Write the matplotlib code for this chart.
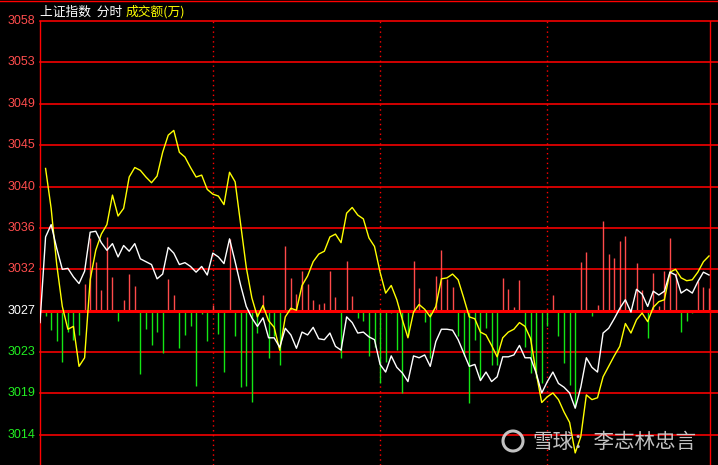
import numpy as np
import matplotlib
matplotlib.use("Agg")
import matplotlib.pyplot as plt
from matplotlib.patches import Circle
from matplotlib.lines import Line2D

# ---------------- data ----------------
title_left = "上证指数  分时"
title_right = "成交额(万)"
watermark = "雪球：李志林忠言"
tick_labels = ["3058", "3053", "3049", "3045", "3040", "3036",
               "3032", "3027", "3023", "3019", "3014"]
base_price = 3027.35
grid_step = 4.35
session_marks = [31, 61, 91]

index_price = [
    3026.1, 3035.1, 3036.4, 3033.9, 3031.7, 3031.8, 3030.9, 3030.2, 3031.5, 3035.6,
    3035.7, 3034.5, 3033.7, 3034.4, 3033.0, 3034.2, 3033.6, 3034.4, 3032.8, 3032.5,
    3032.2, 3030.7, 3031.2, 3034.0, 3033.4, 3032.2, 3032.4, 3032.0, 3031.4, 3032.0,
    3031.1, 3033.4, 3033.0, 3032.3, 3034.9, 3032.5, 3030.0, 3027.8, 3026.6, 3025.7,
    3026.6, 3024.5, 3024.5, 3023.5, 3025.5, 3024.8, 3023.4, 3025.1, 3024.8, 3025.6,
    3024.4, 3024.3, 3025.0, 3023.6, 3023.2, 3026.7, 3026.1, 3025.0, 3025.1, 3024.6,
    3024.3, 3021.7, 3020.9, 3022.6, 3021.4, 3020.8, 3019.9, 3022.6, 3022.4, 3022.7,
    3021.5, 3024.1, 3025.4, 3025.4, 3025.3, 3024.3, 3022.9, 3021.5, 3021.7, 3020.0,
    3020.9, 3019.9, 3020.4, 3022.5, 3022.5, 3022.7, 3023.7, 3022.4, 3022.4, 3020.8,
    3018.7, 3019.9, 3020.9, 3019.7, 3019.3, 3018.7, 3017.1, 3019.3, 3022.4, 3021.4,
    3020.9, 3025.0, 3025.5, 3026.5, 3027.6, 3028.5, 3027.2, 3029.6, 3029.1, 3027.8,
    3029.4, 3029.0, 3029.4, 3031.4, 3031.1, 3029.2, 3029.6, 3029.2, 3030.4, 3031.4,
    3031.1,
]

yellow_line = [
    np.nan, 3042.3, 3038.1, 3032.2, 3027.8, 3025.4, 3025.7, 3021.5, 3022.4, 3030.6,
    3033.7, 3035.4, 3036.4, 3039.5, 3037.3, 3038.1, 3041.4, 3042.4, 3042.1, 3041.4,
    3040.8, 3041.5, 3044.0, 3045.8, 3046.3, 3044.0, 3043.5, 3042.4, 3041.4, 3041.6,
    3040.1, 3039.6, 3039.4, 3038.5, 3041.9, 3040.9, 3036.4, 3031.9, 3028.7, 3026.7,
    3027.9, 3026.3, 3025.6, 3023.2, 3026.7, 3027.6, 3027.4, 3030.0, 3031.0, 3032.5,
    3033.3, 3033.6, 3035.1, 3035.4, 3034.5, 3037.6, 3038.2, 3037.4, 3037.0, 3035.0,
    3034.1, 3031.4, 3029.2, 3030.0, 3028.5, 3026.4, 3024.5, 3027.2, 3028.0, 3027.5,
    3026.7, 3027.8, 3030.7, 3030.8, 3031.2, 3030.6, 3028.7, 3026.7, 3026.5, 3025.1,
    3024.8, 3023.7, 3022.5, 3024.5, 3025.1, 3025.4, 3026.1, 3025.7, 3024.4, 3020.8,
    3017.7, 3018.3, 3018.7, 3018.0, 3016.7, 3015.6, 3012.4, 3014.1, 3018.5, 3018.0,
    3018.2, 3020.4, 3021.5, 3022.6, 3023.6, 3026.0, 3025.0, 3026.4, 3027.1, 3026.2,
    3027.7, 3028.3, 3028.5, 3031.4, 3031.7, 3030.8, 3030.5, 3030.6, 3031.4, 3032.5,
    3033.1,
]

flow_bars = [
    0.0, -0.6, -2.0, -3.2, -5.4, -2.2, -3.1, -2.6, 2.8, 7.6,
    5.1, 2.2, 7.7, 3.5, -1.1, 1.1, 3.9, 2.6, -6.7, -1.9,
    -3.6, -2.2, -4.4, 3.3, 1.6, -3.9, -2.6, -1.6, -7.9, -0.4,
    -3.2, 0.6, -2.5, -6.4, 7.5, -2.7, -8.0, -7.9, -9.6, -2.3,
    1.7, -5.0, -2.7, -5.7, 6.8, 3.4, 1.8, 4.2, 2.8, 1.1,
    0.7, 0.8, 4.2, 1.4, -5.0, 5.2, 1.5, -0.8, -1.1, -4.8,
    -3.8, -7.6, -5.4, -0.2, -4.1, -8.6, -2.7, 5.2, 2.4, -1.2,
    -5.0, 3.6, 6.4, 3.3, 2.5, -2.7, -4.8, -9.7, -3.1, -7.2,
    -1.8, -5.7, -5.7, 3.4, 2.3, 0.4, 3.2, -3.8, -6.5, -7.1,
    -7.6, -1.6, 1.7, -2.7, -5.5, -7.8, -10.1, 5.1, 6.2, -0.6,
    0.6, 9.4, 6.0, 5.5, 7.3, 7.8, 0.0, 5.0, 2.2, -2.9,
    4.0, 0.5, 4.2, 7.6, 4.0, -2.2, -1.1, -0.2, 3.1, 2.5,
    2.4,
]

# ---------------- figure ----------------
W, H = 718, 465
fig = plt.figure(figsize=(W / 100, H / 100), dpi=100, facecolor="black")
ax = fig.add_axes([40 / W, 0, (W - 40) / W, 444 / H])
ax.set_facecolor("black")

n = len(index_price)
x = np.arange(n)
ax.set_xlim(0, (W - 40) / 5.575)
ax.set_ylim(base_price - (154 / 41.3) * grid_step, base_price + 7 * grid_step)
for s in ax.spines.values():
    s.set_visible(False)
ax.set_xticks([])
ax.set_yticks([])

RED = "#ff0000"
# horizontal grid lines
for j in range(-3, 8):
    yv = base_price + j * grid_step
    if j == 0:
        continue
    ax.axhline(yv, color=RED, lw=1.15, clip_on=False, zorder=1)

# vertical lines
ax.axvline(0, color=RED, lw=1.0, clip_on=False, zorder=1)
ax.axvline(120.2, color=RED, lw=1.0, zorder=1)
for m in session_marks:
    ax.axvline(m, color=RED, lw=1.0, linestyle=(0, (1, 2.5)), zorder=1)

# bars
flow = np.array(flow_bars)
pos = flow > 0
neg = flow < 0
ax.vlines(x[pos], base_price, base_price + flow[pos], colors="#ff4a4a", lw=1.0, zorder=2)
ax.vlines(x[neg], base_price, base_price + flow[neg], colors="#14e614", lw=1.0, zorder=2)

# center line
ax.axhline(base_price, color=RED, lw=2.2, zorder=3)

# lines
ax.plot(x, yellow_line, color="#ffff00", lw=1.0, zorder=4)
ax.plot(x, index_price, color="#ffffff", lw=1.0, zorder=5)

# y labels
for j, lab in zip(range(7, -4, -1), tick_labels):
    yv = base_price + j * grid_step
    col = "#ff4d4d" if j > 0 else ("#ffffff" if j == 0 else "#22ee22")
    ax.text(-5 / (W - 40), yv, lab, transform=ax.get_yaxis_transform(),
            ha="right", va="center", color=col, fontsize=9.0,
            family=["Liberation Sans", "DejaVu Sans"], clip_on=False)

# title
cjk = ["Noto Sans CJK SC", "DejaVu Sans"]
fig.text(40 / W, 1 - 12 / H, title_left, color="white", fontsize=9.2,
         family=cjk, ha="left", va="center")
fig.text(126 / W, 1 - 12 / H, title_right, color="#ffff00", fontsize=9.2,
         family=cjk, ha="left", va="center")

# top red line
fig.add_artist(Line2D([0, 1], [1 - 0.8 / H, 1 - 0.8 / H], transform=fig.transFigure,
                      color=RED, lw=1.0))

# watermark
fig.text(532 / W, 1 - 442 / H, watermark, color="#d8d8d8", alpha=0.9,
         fontsize=14.8, family=cjk, ha="left", va="center", zorder=10)
circ = Circle((513 / 100, (H - 441) / 100), 0.10, transform=fig.dpi_scale_trans,
              fill=False, edgecolor="#d8d8d8", lw=2.2, alpha=0.9)
fig.add_artist(circ)

fig.savefig("out.png", dpi=100, facecolor="black")
